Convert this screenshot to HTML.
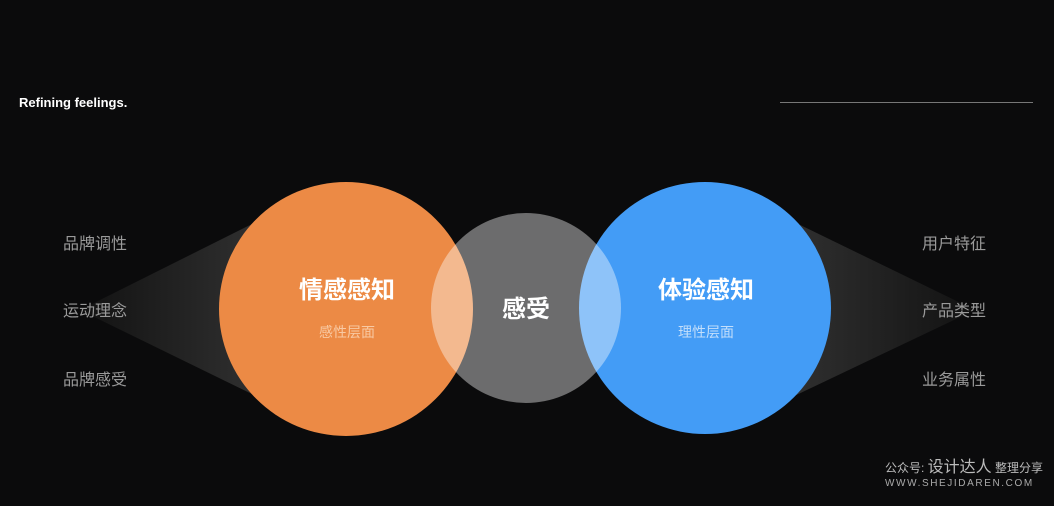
<!DOCTYPE html>
<html><head><meta charset="utf-8"><style>
html,body{margin:0;padding:0;background:#0b0b0c;}
#root{position:relative;width:1054px;height:506px;overflow:hidden;background:#0b0b0c;font-family:"Liberation Sans","Noto Sans CJK SC",sans-serif;}
svg{position:absolute;left:0;top:0}
</style></head><body>
<div id="root">
<svg width="1054" height="506" viewBox="0 0 1054 506">
<defs>
<linearGradient id="gl" x1="0" x2="1" y1="0" y2="0"><stop offset="0" stop-color="#121212"/><stop offset="1" stop-color="#303030"/></linearGradient>
<linearGradient id="gr" x1="1" x2="0" y1="0" y2="0"><stop offset="0" stop-color="#121212"/><stop offset="1" stop-color="#303030"/></linearGradient>
</defs>
<text x="19" y="107" fill="#fff" font-size="13" font-weight="bold">Refining feelings.</text>
<rect x="780" y="102" width="253" height="1" fill="#777"/>
<polygon points="80,310 260,220 260,398" fill="url(#gl)"/>
<polygon points="975,310 790,220 790,398" fill="url(#gr)"/>
<circle cx="346" cy="309" r="127" fill="#ec8a45"/>
<circle cx="705" cy="308" r="126" fill="#439cf6"/>
<circle cx="526" cy="308" r="95" fill="#ffffff" fill-opacity="0.40"/>
<g fill="#9a9a9a" font-size="16">
<text x="63" y="249">品牌调性</text>
<text x="63" y="316">运动理念</text>
<text x="63" y="385">品牌感受</text>
<text x="922" y="249">用户特征</text>
<text x="922" y="316">产品类型</text>
<text x="922" y="385">业务属性</text>
</g>
<g fill="#fff" font-weight="bold" font-size="24" text-anchor="middle">
<text x="347" y="298">情感感知</text>
<text x="526" y="317">感受</text>
<text x="706" y="298">体验感知</text>
</g>
<g font-size="14" text-anchor="middle">
<text x="347" y="337" fill="#f8c9a3">感性层面</text>
<text x="706" y="337" fill="#c2defb">理性层面</text>
</g>
<text x="885" y="472" fill="#bbb" font-size="12">公众号: <tspan font-size="16">设计达人</tspan> 整理分享</text>
<text x="885" y="486" fill="#aaa" font-size="10" letter-spacing="1.6">WWW.SHEJIDAREN.COM</text>
</svg>
</div>
</body></html>
